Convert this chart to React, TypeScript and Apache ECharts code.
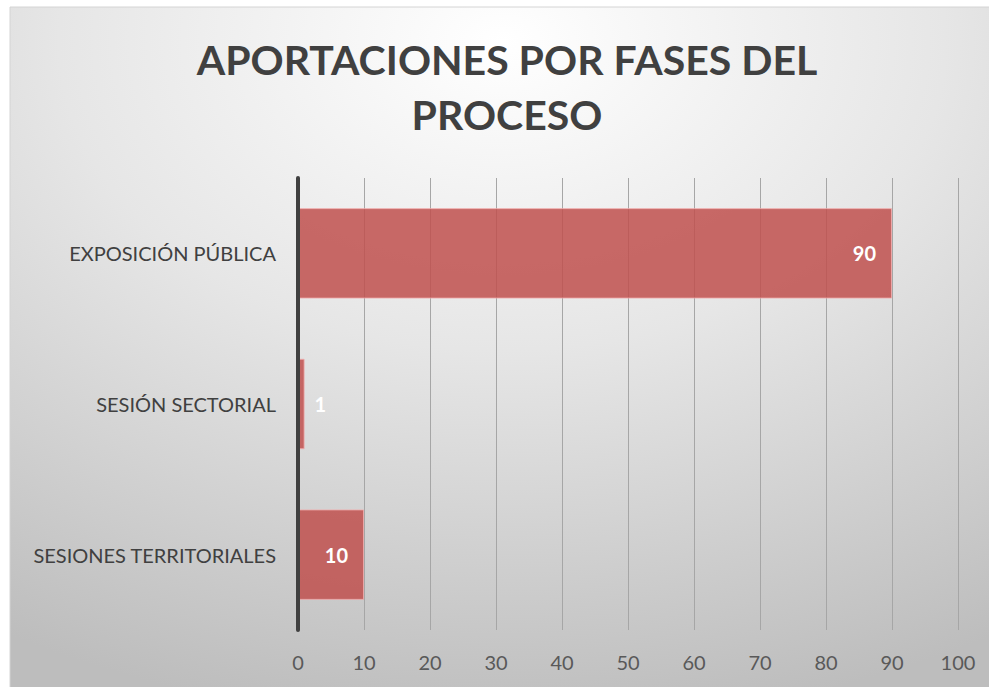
import React, { useEffect, useRef } from "react";
import * as echarts from "echarts";

const titleText = "APORTACIONES POR FASES DEL\nPROCESO";
const categories = ["EXPOSICIÓN PÚBLICA", "SESIÓN SECTORIAL", "SESIONES TERRITORIALES"];
const values = [90, 1, 10];
const xTicks = { min: 0, max: 100, interval: 10 };

export default function App() {
  const ref = useRef<HTMLDivElement>(null);
  useEffect(() => {
    document.body.style.margin = "0";
    const chart = echarts.init(ref.current!, undefined, { renderer: "svg" });
    const font = "Lato, 'Open Sans', sans-serif";
    chart.setOption({
      animation: false,
      graphic: [
        {
          type: "rect",
          z: -10,
          silent: true,
          shape: { x: 10, y: 7, width: 985, height: 686 },
          style: {
            fill: new echarts.graphic.RadialGradient(0.5, 0.05, 1.0, [
              { offset: 0, color: "#ffffff" },
              { offset: 0.45, color: "#e6e6e6" },
              { offset: 1, color: "#bdbdbd" },
            ]),
            stroke: "#d4d4d4",
            lineWidth: 1,
          },
        },
      ],
      title: {
        text: titleText,
        left: 502,
        top: 27,
        textAlign: "center",
        textStyle: {
          fontFamily: font,
          fontSize: 41,
          fontWeight: "bold",
          lineHeight: 55,
          color: "#404040",
        },
      },
      grid: { left: 298, right: 31, top: 178, bottom: 57, containLabel: false },
      xAxis: {
        type: "value",
        min: xTicks.min,
        max: xTicks.max,
        interval: xTicks.interval,
        axisLine: { show: false },
        axisTick: { show: false },
        splitLine: { lineStyle: { color: "#a6a6a6", width: 1 } },
        axisLabel: { fontFamily: font, fontSize: 20, color: "#595959", margin: 22 },
      },
      yAxis: {
        type: "category",
        inverse: true,
        z: 5,
        data: categories,
        axisLine: { show: true, lineStyle: { color: "#404040", width: 4 } },
        axisTick: { show: false },
        axisLabel: { fontFamily: font, fontSize: 20, color: "#404040", margin: 22 },
      },
      series: [
        {
          type: "bar",
          barWidth: "60%",
          data: values.map((v) => ({
            value: v,
            label: v < 5 ? { position: "right", distance: 10 } : undefined,
          })),
          itemStyle: {
            color: "rgba(192,80,77,0.85)",
            borderColor: "rgba(240,170,170,0.8)",
            borderWidth: 1,
          },
          label: {
            show: true,
            position: "insideRight",
            distance: 16,
            color: "#ffffff",
            fontFamily: font,
            fontSize: 20,
            fontWeight: "bold",
          },
        },
      ],
    });
    return () => chart.dispose();
  }, []);
  return <div ref={ref} style={{ width: 989, height: 687 }} />;
}
